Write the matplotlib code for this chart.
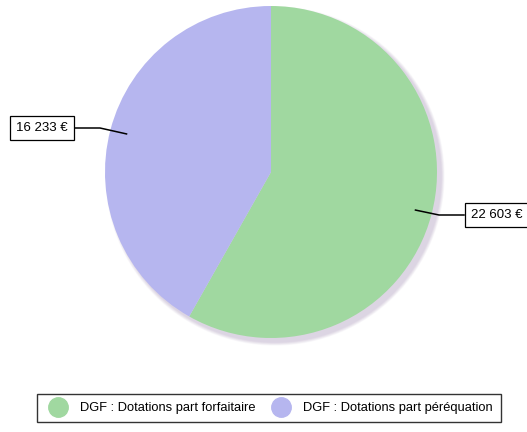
import numpy as np
import matplotlib.pyplot as plt
from matplotlib.patches import Circle
from matplotlib.lines import Line2D

plt.rcParams['font.family'] = ['Liberation Sans', 'DejaVu Sans']

labels = ['DGF : Dotations part forfaitaire', 'DGF : Dotations part péréquation']
values = [22603, 16233]
value_text = ['22 603 €', '16 233 €']
colors = ['#a0d8a0', '#b6b6ef']

W, H = 527, 432
fig = plt.figure(figsize=(W / 100, H / 100), dpi=100)
ax = fig.add_axes([0, 0, 1, 1])
ax.set_xlim(0, W)
ax.set_ylim(0, H)
ax.set_aspect('equal')
ax.axis('off')

cx, cy, r = 271, 260, 166

# soft drop shadow below/right of the pie
for k, a in zip(range(6, 0, -1), [0.10, 0.12, 0.14, 0.16, 0.18, 0.2]):
    ax.add_patch(Circle((cx + 4, cy - 4), r + k * 0.6, color='#cbbfd6', alpha=a, lw=0, zorder=1))

wedges, _ = ax.pie(values, colors=colors, startangle=90, counterclock=False,
                   center=(cx, cy), radius=r, frame=True,
                   wedgeprops=dict(linewidth=0, zorder=2))
ax.set_xlim(0, W)
ax.set_ylim(0, H)
ax.axis('off')

# value callouts: leader from inside the wedge to a boxed label
box_pos = [(497, 217), (42, 304)]
for w, txt, (bx, by) in zip(wedges, value_text, box_pos):
    ang = np.deg2rad((w.theta1 + w.theta2) / 2)
    px, py = cx + 0.9 * r * np.cos(ang), cy + 0.9 * r * np.sin(ang)
    side = 1 if np.cos(ang) > 0 else -1
    edge = bx - side * 33
    knee = edge - side * 25
    ax.plot([px, knee, edge], [py, by, by], color='black', lw=1.1, zorder=3)
    ax.text(bx, by, txt, ha='center', va='center', fontsize=9.5, zorder=4,
            bbox=dict(boxstyle='square,pad=0.45', fc='white', ec='black', lw=0.9))

handles = [Line2D([], [], marker='o', ls='', ms=14, mfc=c, mec=c) for c in colors]
leg = fig.legend(handles, labels, loc='center', bbox_to_anchor=(269 / W, 1 - 408 / H),
                 ncol=2, frameon=True, fancybox=False, fontsize=9.3,
                 handletextpad=0.7, columnspacing=1.0, borderpad=0.65)
leg.get_frame().set_edgecolor('black')
leg.get_frame().set_linewidth(1.0)

fig.savefig('out.png', dpi=100)
